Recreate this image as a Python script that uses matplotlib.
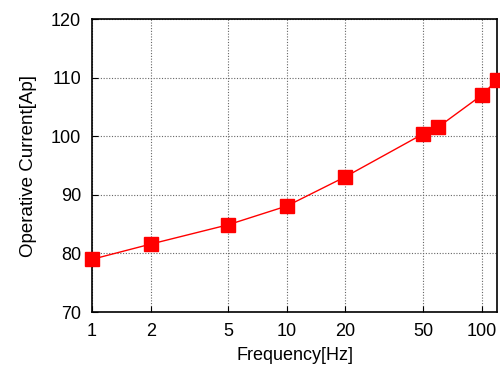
import matplotlib
matplotlib.use("Agg")
import matplotlib.pyplot as plt
from matplotlib.ticker import FixedLocator, NullLocator, FixedFormatter

freq = [1, 2, 5, 10, 20, 50, 60, 100, 120]
current = [79.0, 81.6, 84.9, 88.1, 93.1, 100.4, 101.6, 107.0, 109.6]
xticks = [1, 2, 5, 10, 20, 50, 100]
xticklabels = ["1", "2", "5", "10", "20", "50", "100"]
yticks = [70, 80, 90, 100, 110, 120]

plt.rcParams["font.family"] = ["Liberation Sans", "DejaVu Sans"]

fig = plt.figure(figsize=(5, 3.68), dpi=100)
ax = fig.add_axes([0.184, 0.152, 0.81, 0.796])

ax.plot(freq, current, "-", color="red", lw=1, clip_on=False, zorder=3)
ax.plot(freq, current, "s", color="red", ms=10, clip_on=False, zorder=4)

ax.set_xscale("log")
ax.set_xlim(1, 120)
ax.set_ylim(70, 120)
ax.xaxis.set_major_locator(FixedLocator(xticks))
ax.xaxis.set_major_formatter(FixedFormatter(xticklabels))
ax.xaxis.set_minor_locator(NullLocator())
ax.set_yticks(yticks)

ax.grid(True, linestyle=(0, (1, 1.5)), color="#666666", lw=0.8)
ax.tick_params(direction="in", length=4, labelsize=13, pad=8)
for s in ax.spines.values():
    s.set_linewidth(1.2)

ax.set_xlabel("Frequency[Hz]", fontsize=13, labelpad=5)
ax.set_ylabel("Operative Current[Ap]", fontsize=13.5, labelpad=10)

fig.savefig("out.png", dpi=100)
